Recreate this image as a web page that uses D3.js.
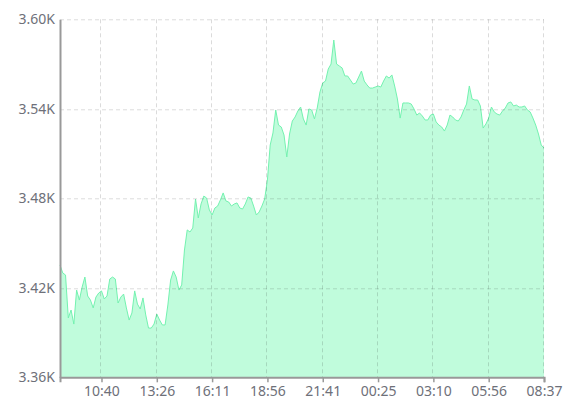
<!DOCTYPE html>
<html>
<head>
<meta charset="utf-8">
<script src="https://cdn.jsdelivr.net/npm/d3@7"></script>
<style>
  body { margin: 0; background: #fff; }
  .chart text { font-family: "Noto Sans", sans-serif; font-size: 14px; }
</style>
</head>
<body>
<svg class="chart"></svg>
<script>
// values, one per category step
var values = [
  3435.3, 3429.9, 3428.6, 3399.8, 3405.1, 3395.7, 3418.5, 3411.8, 3420.5, 3427.2,
  3414.5, 3411.8, 3406.5, 3413.8, 3416.5, 3417.9, 3412.5, 3414.5, 3425.9, 3427.2,
  3425.9, 3409.8, 3413.8, 3415.8, 3406.5, 3398.4, 3403.1, 3417.9, 3409.1, 3405.8,
  3413.2, 3401.8, 3393.0, 3393.0, 3395.7, 3402.4, 3398.4, 3395.1, 3395.1, 3408.5,
  3425.2, 3431.3, 3427.2, 3418.5, 3421.9, 3445.3, 3458.8, 3457.4, 3460.1, 3479.5,
  3466.8, 3476.2, 3481.5, 3480.2, 3472.2, 3468.8, 3473.5, 3474.8, 3478.9, 3483.6,
  3478.2, 3477.5, 3474.8, 3476.2, 3476.9, 3473.5, 3472.8, 3476.2, 3480.9, 3480.2,
  3474.8, 3468.8, 3470.8, 3474.8, 3479.5, 3492.3, 3515.7, 3523.8, 3539.2, 3529.1,
  3527.8, 3522.4, 3507.7, 3523.1, 3531.8, 3534.5, 3538.5, 3541.2, 3533.2, 3529.1,
  3539.9, 3539.2, 3533.2, 3540.5, 3551.3, 3557.3, 3558.6, 3566.7, 3570.0, 3586.1,
  3570.0, 3568.7, 3567.4, 3562.0, 3562.0, 3559.3, 3556.6, 3557.3, 3561.3, 3565.3,
  3558.6, 3556.0, 3553.9, 3553.9, 3554.6, 3555.3, 3554.6, 3558.6, 3562.0, 3560.6,
  3562.7, 3555.3, 3546.6, 3533.8, 3543.9, 3543.9, 3543.9, 3543.2, 3539.9, 3535.8,
  3537.2, 3535.2, 3532.5, 3532.5, 3535.8, 3536.5, 3531.2, 3529.1, 3527.8, 3525.1,
  3529.1, 3535.8, 3534.5, 3532.5, 3531.8, 3534.5, 3539.2, 3543.2, 3555.3, 3546.6,
  3545.9, 3545.9, 3541.9, 3527.1, 3529.8, 3533.8, 3541.2, 3537.9, 3536.5, 3535.8,
  3538.5, 3540.5, 3543.9, 3544.6, 3541.9, 3542.5, 3541.2, 3541.2, 3541.9, 3539.2,
  3537.9, 3533.8, 3529.1, 3523.1, 3515.7, 3513.7
];

// x labels and the category index each one sits on
var tickLabels = ["10:40", "13:26", "16:11", "18:56", "21:41", "00:25", "03:10", "05:56", "08:37"];
var tickIndex = [15, 35, 55, 75, 95, 115, 135, 155, 175];

var yTicks = [3360, 3420, 3480, 3540, 3600];

var margin = { top: 19.3, right: 24, bottom: 34.7, left: 60 },
    width = 568 - margin.left - margin.right,
    height = 412 - margin.top - margin.bottom;

var svg = d3.select(".chart")
    .attr("width", 568)
    .attr("height", 412);

var g = svg.append("g")
    .attr("transform", "translate(" + margin.left + "," + margin.top + ")");

var x = d3.scaleLinear()
    .domain([0, values.length - 1])
    .range([0, width]);

var y = d3.scaleLinear()
    .domain([3360, 3600])
    .range([height, 0]);

// filled area + outline
var area = d3.area()
    .x(function (d, i) { return x(i); })
    .y0(height)
    .y1(function (d) { return y(d); });

var line = d3.line()
    .x(function (d, i) { return x(i); })
    .y(function (d) { return y(d); });

g.append("path")
    .datum(values)
    .attr("d", area)
    .attr("fill", "#c0fcdc");

g.append("path")
    .datum(values)
    .attr("d", line)
    .attr("fill", "none")
    .attr("stroke", "#74f2b0")
    .attr("stroke-width", 1);

// dashed grid on top of the fill
g.append("g")
    .selectAll("line")
    .data(yTicks.slice(1))
  .enter().append("line")
    .attr("x1", 0)
    .attr("x2", width)
    .attr("y1", function (d) { return Math.round(y(d)) + 0.5; })
    .attr("y2", function (d) { return Math.round(y(d)) + 0.5; })
    .attr("stroke", "#000")
    .attr("stroke-opacity", 0.14)
    .attr("stroke-dasharray", "4,3");

g.append("g")
    .selectAll("line")
    .data(tickIndex)
  .enter().append("line")
    .attr("x1", function (d) { return Math.round(x(d)) - 0.5; })
    .attr("x2", function (d) { return Math.round(x(d)) - 0.5; })
    .attr("y1", 0)
    .attr("y2", height)
    .attr("stroke", "#000")
    .attr("stroke-opacity", 0.14)
    .attr("stroke-dasharray", "4,3");

// axes
var xAxis = d3.axisBottom(x)
    .tickValues(tickIndex)
    .tickFormat(function (d, i) { return tickLabels[i]; })
    .tickSizeOuter(0)
    .tickSize(5)
    .tickPadding(4);

var yAxis = d3.axisLeft(y)
    .tickValues(yTicks)
    .tickFormat(function (d) { return (d / 1000).toFixed(2) + "K"; })
    .tickSize(0)
    .tickPadding(5);

var gx = g.append("g")
    .attr("transform", "translate(0," + height + ")")
    .call(xAxis);

var gy = g.append("g")
    .call(yAxis);

gx.select(".domain").attr("stroke", "#999").attr("stroke-width", 2);
gx.selectAll(".tick line").attr("stroke", "#999").attr("stroke-width", 1.5);
gx.selectAll("text").attr("fill", "#6e7079").attr("font-size", 14);

gy.select(".domain").attr("stroke", "#999").attr("stroke-width", 2);
gy.selectAll("text").attr("fill", "#6e7079").attr("font-size", 14);
</script>
</body>
</html>
